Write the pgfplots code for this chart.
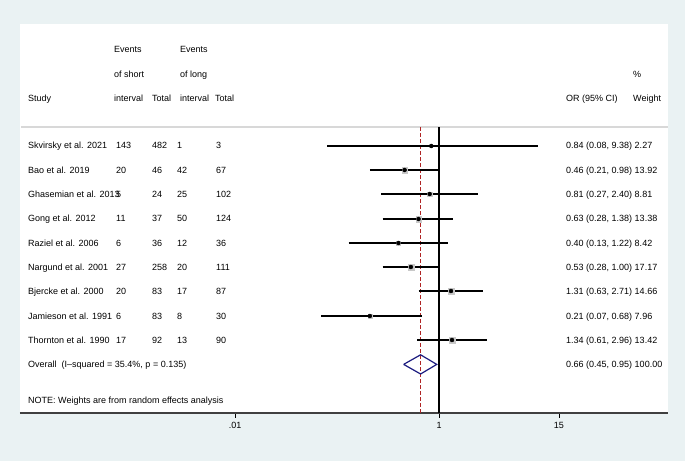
\documentclass[border=0pt]{standalone}
\usepackage{fontspec}
\setmainfont{Liberation Sans}
\usepackage{pgfplots}
\pgfplotsset{compat=1.18}
\usepackage{pgfplotstable}
\definecolor{bgc}{RGB}{234,242,243}
\definecolor{sepc}{RGB}{216,216,216}
\definecolor{redc}{RGB}{176,36,36}
\definecolor{navyc}{RGB}{28,28,128}
\definecolor{boxc}{RGB}{200,200,200}

% or, lower, upper, row position, weight
\pgfplotstableread{
or lo hi y w
0.84 0.08 9.38 267 2.27
0.46 0.21 0.98 243 13.92
0.81 0.27 2.40 219 8.81
0.63 0.28 1.38 194 13.38
0.40 0.13 1.22 170 8.42
0.53 0.28 1.00 146 17.17
1.31 0.63 2.71 122 14.66
0.21 0.07 0.68 97 7.96
1.34 0.61 2.96 73 13.42
}\studies

\newcommand\tx[3]{\node[anchor=west, inner sep=0pt, text height=6.45bp, text depth=0bp] at (#1,#2) {#3};}

\begin{document}
\fontsize{9bp}{11bp}\selectfont
\begin{tikzpicture}[x=1bp,y=1bp]
\fill[bgc] (0,0) rectangle (685,461);
\fill[white] (20,48) rectangle (668,437);
\begin{axis}[
  at={(20bp,48bp)}, anchor=south west,
  scale only axis, width=648bp, height=389bp,
  xmode=log, xmin=7.8e-5, xmax=175.8, ymin=0, ymax=389,
  axis x line*=bottom, axis y line=none,
  x axis line style={-, line width=1.5bp, black!75},
  xtick={0.01,1,15}, xticklabels={.01,1,15}, minor xtick={},
  tick align=outside, major tick length=5bp,
  xtick style={line width=0.8bp, black},
  xticklabel style={font=\fontsize{9bp}{11bp}\selectfont, inner sep=0bp, yshift=-4bp},
  clip=false,
]
% separator under header
\addplot[sepc, line width=2bp] coordinates {(8.0e-5,286) (175.8,286)};
% null line and overall effect line
\addplot[black, line width=1.2bp] coordinates {(1,0) (1,286)};
\addplot[redc, line width=1bp, dash pattern=on 3.5bp off 2.5bp] coordinates {(0.66,0) (0.66,286)};
% confidence intervals
\addplot[black, line width=1.8bp, unbounded coords=jump] coordinates {
(0.08,267) (9.38,267) (nan,nan)
(0.21,243) (0.98,243) (nan,nan)
(0.27,219) (2.40,219) (nan,nan)
(0.28,194) (1.38,194) (nan,nan)
(0.13,170) (1.22,170) (nan,nan)
(0.28,146) (1.00,146) (nan,nan)
(0.63,122) (2.71,122) (nan,nan)
(0.07,97) (0.68,97) (nan,nan)
(0.61,73) (2.96,73)
};
% weight boxes
\addplot[only marks, mark=square*, scatter, point meta=explicit,
  scatter/use mapped color={draw=boxc, fill=boxc},
  visualization depends on={sqrt(\thisrow{w})*0.75 \as \msz},
  scatter/@pre marker code/.append style={/tikz/mark size=\msz}]
  table[x=or, y=y, meta=w] {\studies};
% point estimates
\addplot[only marks, mark=*, mark size=2bp, black] table[x=or, y=y] {\studies};
% overall diamond
\addplot[navyc, line width=1.2bp, line join=miter] coordinates {
(0.45,48.6) (0.66,58.2) (0.95,48.6) (0.66,39.0) (0.45,48.6)};
\end{axis}
% header
\tx{114}{411.3}{Events}
\tx{180}{411.3}{Events}
\tx{114}{387.0}{of short}
\tx{180}{387.0}{of long}
\tx{633}{387.0}{\%}
\tx{28}{362.7}{Study}
\tx{114}{362.7}{interval}
\tx{152}{362.7}{Total}
\tx{180}{362.7}{interval}
\tx{215}{362.7}{Total}
\tx{566}{362.7}{OR (95\% CI)}
\tx{633}{362.7}{Weight}
% rows
\tx{28}{315.3}{Skvirsky et al. 2021}
\tx{116}{315.3}{143}\tx{152}{315.3}{482}\tx{177}{315.3}{1}\tx{216}{315.3}{3}
\tx{566}{315.3}{0.84 (0.08, 9.38) 2.27}
\tx{28}{291.0}{Bao et al. 2019}
\tx{116}{291.0}{20}\tx{152}{291.0}{46}\tx{177}{291.0}{42}\tx{216}{291.0}{67}
\tx{566}{291.0}{0.46 (0.21, 0.98) 13.92}
\tx{28}{266.7}{Ghasemian et al. 2013}
\tx{116}{266.7}{5}\tx{152}{266.7}{24}\tx{177}{266.7}{25}\tx{216}{266.7}{102}
\tx{566}{266.7}{0.81 (0.27, 2.40) 8.81}
\tx{28}{242.4}{Gong et al. 2012}
\tx{116}{242.4}{11}\tx{152}{242.4}{37}\tx{177}{242.4}{50}\tx{216}{242.4}{124}
\tx{566}{242.4}{0.63 (0.28, 1.38) 13.38}
\tx{28}{218.1}{Raziel et al. 2006}
\tx{116}{218.1}{6}\tx{152}{218.1}{36}\tx{177}{218.1}{12}\tx{216}{218.1}{36}
\tx{566}{218.1}{0.40 (0.13, 1.22) 8.42}
\tx{28}{193.8}{Nargund et al. 2001}
\tx{116}{193.8}{27}\tx{152}{193.8}{258}\tx{177}{193.8}{20}\tx{216}{193.8}{111}
\tx{566}{193.8}{0.53 (0.28, 1.00) 17.17}
\tx{28}{169.5}{Bjercke et al. 2000}
\tx{116}{169.5}{20}\tx{152}{169.5}{83}\tx{177}{169.5}{17}\tx{216}{169.5}{87}
\tx{566}{169.5}{1.31 (0.63, 2.71) 14.66}
\tx{28}{145.2}{Jamieson et al. 1991}
\tx{116}{145.2}{6}\tx{152}{145.2}{83}\tx{177}{145.2}{8}\tx{216}{145.2}{30}
\tx{566}{145.2}{0.21 (0.07, 0.68) 7.96}
\tx{28}{120.9}{Thornton et al. 1990}
\tx{116}{120.9}{17}\tx{152}{120.9}{92}\tx{177}{120.9}{13}\tx{216}{120.9}{90}
\tx{566}{120.9}{1.34 (0.61, 2.96) 13.42}
\tx{28}{96.6}{Overall\ \ (I–squared = 35.4\%, p = 0.135)}
\tx{566}{96.6}{0.66 (0.45, 0.95) 100.00}
\tx{28}{61.0}{NOTE: Weights are from random effects analysis}
\end{tikzpicture}
\end{document}
